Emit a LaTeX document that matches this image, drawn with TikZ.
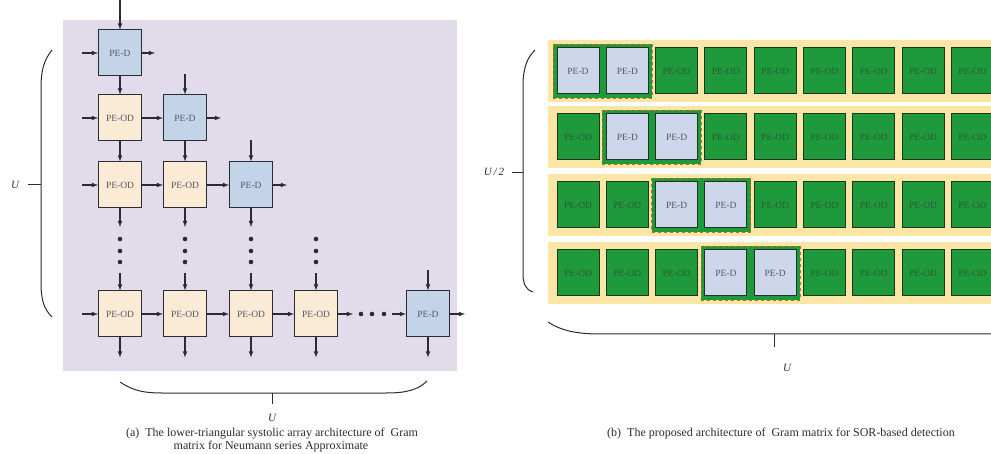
\documentclass[tikz,border=0pt]{standalone}
\usepackage{fontspec}
\setmainfont{Liberation Serif}
\definecolor{panelbg}{HTML}{E2DCEA}
\definecolor{pedblue}{HTML}{C4D4E8}
\definecolor{peodcream}{HTML}{FBEBD4}
\definecolor{boxline}{HTML}{2B2B35}
\definecolor{labelgray}{HTML}{55556A}
\definecolor{stripyellow}{HTML}{FBE6A6}
\definecolor{pegreen}{HTML}{1E9A3C}
\definecolor{pedpale}{HTML}{CDD6EA}
\definecolor{greenline}{HTML}{1C3420}
\definecolor{greentext}{HTML}{2C5A32}
\definecolor{pairline}{HTML}{D8641E}

\begin{document}
\begin{tikzpicture}[x=1pt, y=-1pt, >=latex,
   pe/.style={draw=boxline, line width=1pt, minimum width=43pt, minimum height=46pt, inner sep=0pt, font=\fontsize{9.5}{10}\selectfont, text=labelgray},
   ped/.style={pe, fill=pedblue},
   peod/.style={pe, fill=peodcream},
   pg/.style={draw=greenline, line width=1pt, minimum width=42pt, minimum height=46pt, inner sep=0pt, font=\fontsize{9.5}{10}\selectfont},
   gd/.style={pg, fill=pedpale, text=labelgray},
   god/.style={pg, fill=pegreen, text=greentext},
   strip/.style={fill=stripyellow, minimum width=452pt, minimum height=62pt, inner sep=0pt},
   pair/.style={fill=pegreen, draw=pairline, dashed, line width=0.8pt, minimum width=99pt, minimum height=54pt, inner sep=0pt},
   brace/.style={draw=boxline, line width=1pt},
   ulabel/.style={font=\fontsize{11}{12}\selectfont\itshape, text=boxline},
   caption/.style={font=\fontsize{12}{13}\selectfont, text=boxline, inner sep=0pt}]
   \useasboundingbox (0,0) rectangle (991,454);
   \clip (0,0) rectangle (991,454);

   \fill[panelbg] (63,20) rectangle (457,371);

   \node[ped] (d1) at (120,53) {PE-D};
   \node[peod] (od21) at (120,118) {PE-OD};
   \node[ped] (d2) at (185,118) {PE-D};
   \node[peod] (od31) at (120,185) {PE-OD};
   \node[peod] (od32) at (185,185) {PE-OD};
   \node[ped] (d3) at (251,185) {PE-D};
   \node[peod] (od51) at (120,314) {PE-OD};
   \node[peod] (od52) at (185,314) {PE-OD};
   \node[peod] (od53) at (251,314) {PE-OD};
   \node[peod] (od54) at (316,314) {PE-OD};
   \node[ped] (d5) at (428,314) {PE-D};

   \coordinate (t1) at (120,0);
   \coordinate (t2) at (185,74);
   \coordinate (t3) at (251,140);
   \coordinate (t5) at (428,270);
   \coordinate (l1) at (82,53);
   \coordinate (l2) at (82,118);
   \coordinate (l3) at (82,185);
   \coordinate (l5) at (82,314);
   \coordinate (r1) at (155,53);
   \coordinate (r2) at (221,118);
   \coordinate (r3) at (287,185);
   \coordinate (r5) at (465,314);
   \coordinate (m1) at (120,227);
   \coordinate (m2) at (185,227);
   \coordinate (m3) at (251,227);
   \coordinate (n1) at (120,273);
   \coordinate (n2) at (185,273);
   \coordinate (n3) at (251,273);
   \coordinate (n4) at (316,273);
   \coordinate (h1) at (353,314);
   \coordinate (h2) at (392,314);

   \begin{scope}[every edge/.style={draw=boxline, line width=1.1pt, ->}]
    \draw (t1) edge (d1) (t2) edge (d2) (t3) edge (d3) (t5) edge (d5);
    \draw (l1) edge (d1) (l2) edge (od21) (l3) edge (od31) (l5) edge (od51);
    \draw (d1) edge (r1) (d2) edge (r2) (d3) edge (r3) (d5) edge (r5);
    \draw (d1) edge (od21) (od21) edge (od31) (d2) edge (od32);
    \draw (od21) edge (d2) (od31) edge (od32) (od32) edge (d3);
    \draw (od31) edge (m1) (od32) edge (m2) (d3) edge (m3);
    \draw (n1) edge (od51) (n2) edge (od52) (n3) edge (od53) (n4) edge (od54);
    \draw (od51) edge (od52) (od52) edge (od53) (od53) edge (od54);
    \draw (od54) edge (h1) (h2) edge (d5);
    \foreach \n in {od51,od52,od53,od54,d5}
      \draw (\n) edge ([yshift=-20pt]\n.south);
   \end{scope}

   \foreach \x in {120,185,251,316}
     \foreach \y in {239,251,262}
       \fill[boxline] (\x,\y) circle (2.3pt);
   \foreach \x in {361,372,384}
     \fill[boxline] (\x,314) circle (2.3pt);

   \draw[brace] (52,50) .. controls (44,60) and (41,70) .. (41,88) -- (41,283) .. controls (41,300) and (44,309) .. (52,317);
   \draw[brace] (41,185) -- (28,185);
   \node[ulabel] (ua) at (15,185) {U};
   \draw[brace] (120,382) .. controls (132,390) and (142,393) .. (162,393) -- (386,393) .. controls (406,393) and (418,390) .. (427,381);
   \draw[brace] (272,393) -- (272,404);
   \node[ulabel] (ub) at (272,418) {U};

   \node[caption] (capa1) at (272,434) {(a)\ \ The lower-triangular systolic array architecture of\ \ Gram};
   \node[caption] (capa2) at (271,447) {matrix for Neumann series Approximate};

   \foreach \r/\y in {1/71,2/137,3/205,4/273} {
     \node[strip] (s\r) at (774,\y) {};
     \node[pair] (h\r) at ({602.65+49.3*(\r-1)},\y) {};
     \foreach \c in {1,...,9} {
       \pgfmathtruncatemacro{\k}{\c-\r}
       \ifnum\k<0 \def\sty{god}\def\lab{PE-OD}\else
         \ifnum\k>1 \def\sty{god}\def\lab{PE-OD}\else \def\sty{gd}\def\lab{PE-D}\fi\fi
       \node[\sty] (p\r\c) at ({578+49.3*(\c-1)},\y) {\lab};
     }
   }

   \draw[brace] (535,50) .. controls (527,58) and (523,68) .. (523,86) -- (523,274) .. controls (523,284) and (526,290) .. (533,292);
   \draw[brace] (523,173) -- (512,173);
   \node[ulabel] (uc) at (494,172) {U\,/\,2};
   \draw[brace] (548,322) .. controls (560,330) and (575,334) .. (600,334) -- (1000,334);
   \draw[brace] (774,334) -- (774,347);
   \node[ulabel] (ud) at (787,368) {U};

   \node[caption] (capb) at (781,434) {(b)\ \ The proposed architecture of\ \ Gram matrix for SOR-based detection};
\end{tikzpicture}
\end{document}
